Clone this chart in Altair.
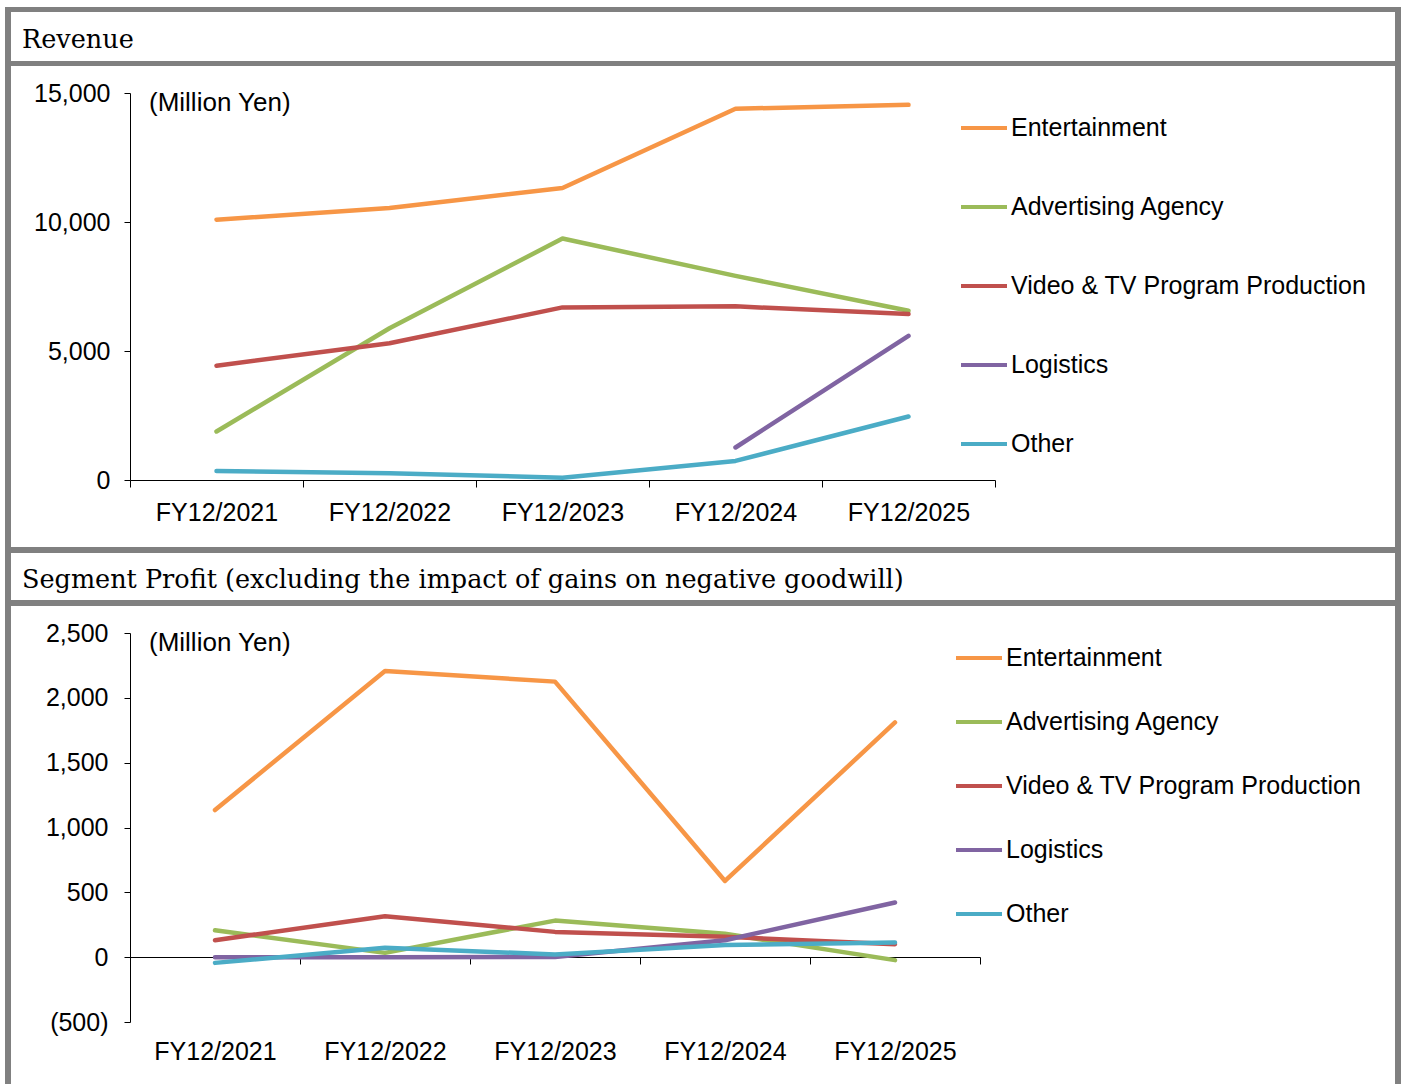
import altair as alt
import pandas as pd

# ---------------- data ----------------
years = ["FY12/2021", "FY12/2022", "FY12/2023", "FY12/2024", "FY12/2025"]
segments = ["Entertainment", "Advertising Agency", "Video & TV Program Production", "Logistics", "Other"]
colors = ["#F79646", "#9BBB59", "#C0504D", "#8064A2", "#4BACC6"]

rev_entertainment = [10090, 10540, 11320, 14390, 14540]
rev_advertising = [1880, 5880, 9360, 7910, 6560]
rev_video = [4430, 5300, 6690, 6730, 6430]
rev_logistics = [None, None, None, 1260, 5590]
rev_other = [350, 260, 90, 740, 2460]

prof_entertainment = [1135, 2207, 2125, 588, 1810]
prof_advertising = [208, 33, 282, 180, -23]
prof_video = [131, 316, 195, 157, 100]
prof_logistics = [0, 0, 2, 131, 422]
prof_other = [-44, 72, 21, 93, 113]

rev_ticks = [0, 5000, 10000, 15000]
prof_ticks = [-500, 0, 500, 1000, 1500, 2000, 2500]

title_revenue = "Revenue"
title_profit = "Segment Profit (excluding the impact of gains on negative goodwill)"
unit_label = "(Million Yen)"


def long_df(series):
    rows = []
    for seg, vals in zip(segments, series):
        for yr, v in zip(years, vals):
            if v is not None:
                rows.append({"year": yr, "segment": seg, "value": v})
    return pd.DataFrame(rows)


rev_df = long_df([rev_entertainment, rev_advertising, rev_video, rev_logistics, rev_other])
prof_df = long_df([prof_entertainment, prof_advertising, prof_video, prof_logistics, prof_other])

FRAME = "#808080"
SANS = "Liberation Sans"
SERIF = "DejaVu Serif"
one = pd.DataFrame({"t": [""]})


def bar(x1, x2, y1, y2):
    return alt.Chart(one).mark_rect(color=FRAME).encode(
        x=alt.value(x1), x2=alt.value(x2), y=alt.value(y1), y2=alt.value(y2)
    )


def text_at(txt, x, y, font, size):
    return alt.Chart(pd.DataFrame({"t": [txt]})).mark_text(
        font=font, fontSize=size, align="left", baseline="alphabetic", color="black"
    ).encode(x=alt.value(x), y=alt.value(y), text="t:N")


def panel(df, w, h, domain, ticks, x_offset, x_label_pad, y_label_pad,
          legend_x, legend_y, row_pad, frame, title, title_xy, unit_xy):
    lines = alt.Chart(df).mark_line(strokeWidth=4.5, strokeCap="round", strokeJoin="round").encode(
        x=alt.X(
            "year:N", sort=years, bandPosition=0.5,
            scale=alt.Scale(type="band", paddingInner=0, paddingOuter=0, domain=years),
            axis=alt.Axis(title=None, labelAngle=0, tickBand="extent", tickSize=7,
                          offset=x_offset, labelPadding=x_label_pad, labelFontSize=25),
        ),
        y=alt.Y(
            "value:Q",
            scale=alt.Scale(domain=domain, nice=False, zero=False),
            axis=alt.Axis(
                title=None, values=ticks, tickSize=6, labelPadding=y_label_pad, labelFontSize=25,
                labelExpr="datum.value < 0 ? '(' + format(-datum.value, ',') + ')' : format(datum.value, ',')",
            ),
        ),
        color=alt.Color(
            "segment:N", sort=segments,
            scale=alt.Scale(domain=segments, range=colors),
            legend=alt.Legend(
                title=None, orient="none", legendX=legend_x, legendY=legend_y,
                symbolType="stroke", symbolSize=2116, symbolStrokeWidth=4,
                labelFont=SANS, labelFontSize=25, labelColor="black", labelOffset=2,
                labelLimit=0, rowPadding=row_pad, padding=0,
            ),
        ),
    )
    fx1, fx2, fy1, fy2, b1, b2 = frame
    layers = [
        bar(fx1, fx2, b1[0], b1[1]),
        bar(fx1, fx2, b2[0], b2[1]),
        bar(fx1, fx1 + 6, fy1, fy2),
        bar(fx2 - 6, fx2, fy1, fy2),
        text_at(title, title_xy[0], title_xy[1], SERIF, 25.5),
        text_at(unit_label, unit_xy[0], unit_xy[1], SANS, 26),
        lines,
    ]
    return alt.layer(*layers).properties(width=w, height=h)


top = panel(
    rev_df, 865, 387, [0, 15000], rev_ticks, 0, 13, 14,
    829, 10, 41,
    (-125, 1271, -86, 454, (-86, -81), (-32, -27)),
    title_revenue, (-108, -45), (19, 18),
)

bottom = panel(
    prof_df, 850, 389, [-500, 2500], prof_ticks, -65, 75, 16,
    824, 0, 26,
    (-125, 1271, -86, 451, (-86, -80), (-33, -27)),
    title_profit, (-108, -45), (19, 18),
)

chart = (
    alt.vconcat(top, bottom, spacing=0)
    .resolve_scale(x="independent", y="independent", color="independent")
    .properties(padding={"left": 5, "top": 7, "right": 0, "bottom": 0}, background="white")
    .configure_view(stroke=None)
    .configure_axis(
        grid=False, labelFont=SANS, labelColor="black", domainColor="black",
        tickColor="black", domainWidth=1, tickWidth=1,
    )
)

chart.save("out.html", embed_options={"renderer": "svg", "actions": False})
